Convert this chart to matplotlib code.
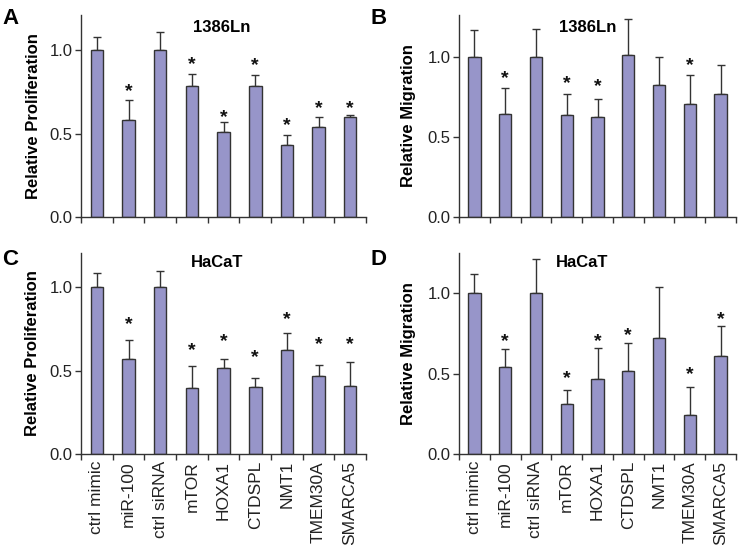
import numpy as np
import matplotlib
matplotlib.use("Agg")
import matplotlib.pyplot as plt

plt.rcParams['font.family'] = ['Liberation Sans', 'DejaVu Sans']

categories = ["ctrl mimic", "miR-100", "ctrl siRNA", "mTOR", "HOXA1",
              "CTDSPL", "NMT1", "TMEM30A", "SMARCA5"]

# Panel A: 1386Ln proliferation
prolif_1386 = [1.00, 0.584, 1.00, 0.782, 0.508, 0.782, 0.432, 0.538, 0.598]
prolif_1386_err = [0.080, 0.116, 0.106, 0.076, 0.060, 0.070, 0.058, 0.060, 0.014]
prolif_1386_star = [None, 0.754, None, 0.912, 0.598, 0.908, 0.546, 0.648, 0.648]

# Panel B: 1386Ln migration
migr_1386 = [1.00, 0.643, 1.00, 0.637, 0.624, 1.01, 0.822, 0.705, 0.768]
migr_1386_err = [0.166, 0.160, 0.172, 0.129, 0.110, 0.224, 0.176, 0.183, 0.178]
migr_1386_star = [None, 0.865, None, 0.832, 0.813, None, None, 0.944, None]

# Panel C: HaCaT proliferation
prolif_hacat = [1.00, 0.571, 1.00, 0.393, 0.515, 0.401, 0.621, 0.469, 0.407]
prolif_hacat_err = [0.088, 0.110, 0.098, 0.132, 0.054, 0.056, 0.104, 0.064, 0.142]
prolif_hacat_star = [None, 0.778, None, 0.623, 0.675, 0.577, 0.804, 0.653, 0.653]

# Panel D: HaCaT migration
migr_hacat = [1.00, 0.543, 1.00, 0.308, 0.468, 0.516, 0.723, 0.241, 0.611]
migr_hacat_err = [0.120, 0.108, 0.210, 0.089, 0.189, 0.174, 0.314, 0.177, 0.183]
migr_hacat_star = [None, 0.70, None, 0.468, 0.70, 0.734, None, 0.493, 0.838]

W, H = 741, 545
fig = plt.figure(figsize=(W / 100, H / 100), dpi=100)

BAR_COLOR = '#9795c9'
EDGE = '#333333'
AX_COLOR = '#333333'


def px_axes(left, top, right, bottom):
    return fig.add_axes([left / W, 1 - bottom / H, (right - left) / W, (bottom - top) / H])


panels = [
    dict(box=(81, 15, 366, 217), vals=prolif_1386, err=prolif_1386_err, star=prolif_1386_star,
         ylabel='Relative Proliferation', title='1386Ln', letter='A', ymax=1.21, labels=False,
         letter_xy=(2, 8), label_x=34, title_x=222, title_base=32),
    dict(box=(459, 15, 736, 217), vals=migr_1386, err=migr_1386_err, star=migr_1386_star,
         ylabel='Relative Migration', title='1386Ln', letter='B', ymax=1.26, labels=False,
         letter_xy=(371, 8), label_x=408.5, title_x=588, title_base=32),
    dict(box=(81, 253, 366, 454), vals=prolif_hacat, err=prolif_hacat_err, star=prolif_hacat_star,
         ylabel='Relative Proliferation', title='HaCaT', letter='C', ymax=1.205, labels=True,
         letter_xy=(2, 249), label_x=33, title_x=217, title_base=267),
    dict(box=(459, 253, 736, 454), vals=migr_hacat, err=migr_hacat_err, star=migr_hacat_star,
         ylabel='Relative Migration', title='HaCaT', letter='D', ymax=1.25, labels=True,
         letter_xy=(371, 249), label_x=408.5, title_x=582, title_base=267),
]

x = np.arange(len(categories))
for p in panels:
    ax = px_axes(*p['box'])
    left, top, right, bottom = p['box']
    n = len(p['vals'])
    ax.bar(x, p['vals'], width=0.4, color=BAR_COLOR, edgecolor=EDGE, linewidth=1.0, zorder=2)
    ax.errorbar(x, p['vals'], yerr=[np.zeros(n), p['err']], fmt='none', ecolor=EDGE,
                elinewidth=1.0, capsize=3, capthick=1.0, zorder=1)
    for xi, s in zip(x, p['star']):
        if s is not None:
            ax.text(xi, s, '*', ha='center', va='center', fontsize=14, fontweight='bold',
                    color='#111111')
    ax.set_xlim(-0.5, n - 0.5)
    ax.set_ylim(0, p['ymax'])
    ax.set_yticks([0.0, 0.5, 1.0])
    ax.set_yticklabels(['0.0', '0.5', '1.0'])
    ax.set_xticks(np.arange(n + 1) - 0.5)
    ax.set_xticklabels([])
    ax.set_xticks(x, minor=True)
    if p['labels']:
        ax.set_xticklabels(categories, minor=True, rotation=90)
    ax.tick_params(axis='x', which='minor', length=0, labelsize=12.5, pad=5,
                   labelcolor='#222222')
    ax.tick_params(axis='x', which='major', length=4, width=1, color=AX_COLOR)
    ax.tick_params(axis='y', length=4, width=1, color=AX_COLOR, labelsize=12, pad=2,
                   labelcolor='#222222')
    for side in ['top', 'right']:
        ax.spines[side].set_visible(False)
    for side in ['left', 'bottom']:
        ax.spines[side].set_color(AX_COLOR)
        ax.spines[side].set_linewidth(1.0)
    ax.set_ylabel(p['ylabel'], fontsize=12, fontweight='bold', va='center')
    ax.yaxis.set_label_coords((p['label_x'] - left) / (right - left), 0.5)
    ax.text((p['title_x'] - left) / (right - left), (bottom - p['title_base']) / (bottom - top),
            p['title'], transform=ax.transAxes, ha='center', va='baseline',
            fontsize=12, fontweight='bold')
    lx, ly = p['letter_xy']
    fig.text(lx / W, 1 - ly / H, p['letter'], ha='left', va='top', fontsize=16,
             fontweight='bold')

fig.savefig('out.png', dpi=100)
